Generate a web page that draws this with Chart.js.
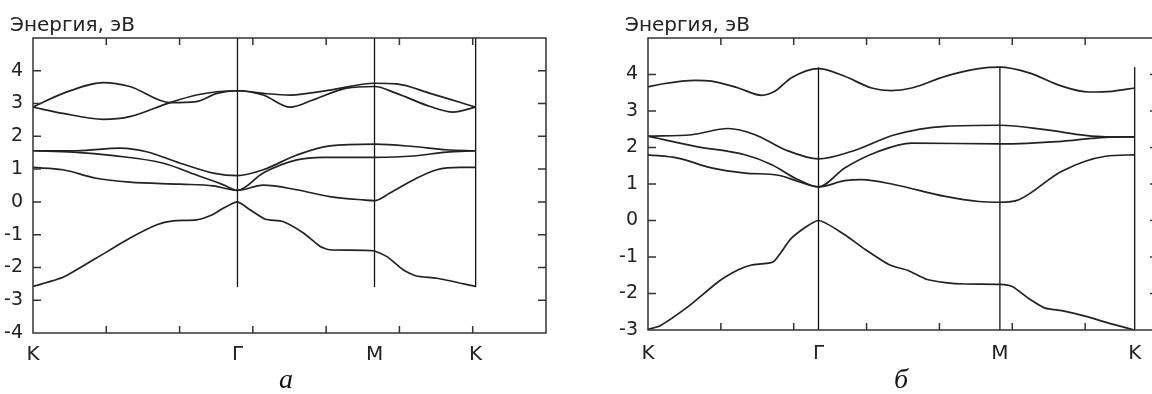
<!DOCTYPE html>
<html>
<head>
<meta charset="utf-8">
<script src="https://cdn.jsdelivr.net/npm/chart.js@4.4.0/dist/chart.umd.min.js"></script>
<style>
  html, body { margin: 0; padding: 0; background: #fff; overflow: hidden; width: 1152px; height: 394px; }
  .panel { position: absolute; top: 0; height: 394px; }
  .cap { position: absolute; font: italic 28px "Liberation Serif", serif; color: #111; }
</style>
</head>
<body>
<div class="panel" style="left:0;width:576px"><canvas id="chartA"></canvas></div>
<div class="panel" style="left:613px;width:560px"><canvas id="chartB"></canvas></div>
<div class="cap" style="left:279px;top:363px">а</div>
<div class="cap" style="left:894px;top:363px">б</div>
<script>
// panel а — high symmetry points, axis ticks
const symA = [0, 2.79, 4.66, 6.04];
const symNames = ['K', 'Γ', 'M', 'K'];
const yLabelsA = [-4, -3, -2, -1, 0, 1, 2, 3, 4];
const vlineA = [-2.6, 5];

// panel а bands [k, E]
const aBand1 = [[0,-2.58],[0.41,-2.30],[0.86,-1.72],[1.32,-1.11],[1.69,-0.70],[1.91,-0.58],[2.23,-0.55],[2.44,-0.40],[2.60,-0.19],[2.79,0.0],[2.96,-0.24],[3.17,-0.53],[3.41,-0.60],[3.69,-0.95],[3.92,-1.36],[4.05,-1.46],[4.64,-1.49],[4.83,-1.67],[5.05,-2.07],[5.23,-2.26],[5.51,-2.33],[6.04,-2.58]];
const aBand2 = [[0,1.05],[0.41,0.98],[0.86,0.72],[1.32,0.60],[2.01,0.54],[2.46,0.49],[2.79,0.35],[3.14,0.51],[3.60,0.37],[4.05,0.16],[4.51,0.06],[4.66,0.04],[4.87,0.27],[5.19,0.67],[5.51,0.98],[5.83,1.05],[6.04,1.05]];
const aBand3 = [[0,1.56],[0.55,1.52],[1.10,1.41],[1.78,1.18],[2.23,0.82],[2.60,0.52],[2.79,0.35],[3.14,0.88],[3.60,1.28],[3.96,1.36],[4.66,1.36],[5.19,1.40],[5.64,1.52],[6.04,1.56]];
const aBand4 = [[0,1.56],[0.60,1.56],[1.19,1.64],[1.55,1.53],[2.01,1.18],[2.46,0.88],[2.79,0.80],[3.14,0.98],[3.60,1.43],[4.05,1.71],[4.66,1.76],[5.19,1.69],[5.64,1.59],[6.04,1.56]];
const aBand5 = [[0,2.89],[0.41,3.31],[0.96,3.64],[1.32,3.52],[1.87,3.03],[2.23,3.06],[2.51,3.31],[2.79,3.39],[3.14,3.26],[3.51,2.89],[3.82,3.11],[4.28,3.47],[4.66,3.52],[4.96,3.31],[5.42,2.91],[5.73,2.74],[6.04,2.89]];
const aBand6 = [[0,2.89],[0.41,2.70],[0.96,2.52],[1.32,2.60],[1.87,3.03],[2.23,3.26],[2.51,3.36],[2.79,3.39],[3.14,3.31],[3.51,3.26],[4.05,3.41],[4.66,3.62],[4.96,3.60],[5.42,3.31],[6.04,2.89]];

// panel б
const symB = [0, 2.34, 4.83, 6.68];
const yLabelsB = [-3, -2, -1, 0, 1, 2, 3, 4];
const vlineB = [-3, 4.2];

const bBand1 = [[0,-2.98],[0.16,-2.89],[0.55,-2.36],[0.97,-1.67],[1.24,-1.35],[1.42,-1.22],[1.72,-1.13],[1.97,-0.48],[2.34,0],[2.70,-0.39],[2.98,-0.79],[3.32,-1.22],[3.57,-1.37],[3.82,-1.61],[4.08,-1.70],[4.35,-1.74],[4.83,-1.75],[5.00,-1.81],[5.22,-2.13],[5.45,-2.40],[5.68,-2.47],[6.00,-2.62],[6.37,-2.84],[6.68,-3.0]];
const bBand2 = [[0,1.80],[0.41,1.71],[0.87,1.44],[1.33,1.30],[1.79,1.24],[2.06,1.07],[2.34,0.92],[2.70,1.09],[2.93,1.12],[3.39,0.98],[4.08,0.66],[4.54,0.52],[4.83,0.50],[5.09,0.57],[5.68,1.35],[6.28,1.76],[6.68,1.80]];
const bBand3 = [[0,2.31],[0.65,2.03],[1.33,1.80],[1.70,1.53],[2.02,1.16],[2.34,0.92],[2.70,1.44],[3.16,1.89],[3.62,2.12],[4.83,2.10],[5.68,2.17],[6.28,2.28],[6.68,2.29]];
const bBand4 = [[0,2.31],[0.60,2.35],[1.10,2.52],[1.47,2.35],[1.88,1.94],[2.34,1.69],[2.79,1.89],[3.39,2.35],[4.08,2.58],[4.83,2.61],[5.45,2.49],[6.00,2.33],[6.28,2.29],[6.68,2.29]];
const bBand5 = [[0,3.66],[0.19,3.74],[0.65,3.84],[0.87,3.82],[1.24,3.63],[1.56,3.43],[1.74,3.54],[1.97,3.91],[2.34,4.16],[2.70,3.95],[3.07,3.63],[3.34,3.56],[3.62,3.63],[4.08,3.95],[4.54,4.16],[4.83,4.20],[5.22,4.05],[5.68,3.68],[6.05,3.52],[6.37,3.54],[6.68,3.63]];

const xTicks = [1, 2, 3, 4, 5, 6];

const FONT = { family: 'DejaVu Sans', size: 19 };
const XFONT = { family: 'DejaVu Sans', size: 20 };
const INK = '#222';

// gnuplot-style frame with inward ticks, plus the axis caption top-left
const framePlugin = {
  id: 'frame',
  afterDatasetsDraw(chart, args, opts) {
    const { ctx, chartArea: a, scales: { x, y } } = chart;
    ctx.save();
    ctx.strokeStyle = '#333';
    ctx.lineWidth = 1.5;
    ctx.strokeRect(a.left, a.top, a.right - a.left, a.bottom - a.top);
    ctx.beginPath();
    opts.xTicks.forEach(v => {
      const px = x.getPixelForValue(v);
      ctx.moveTo(px, a.bottom); ctx.lineTo(px, a.bottom - 7);
      ctx.moveTo(px, a.top); ctx.lineTo(px, a.top + 7);
    });
    opts.yTicks.forEach(v => {
      const py = y.getPixelForValue(v);
      ctx.moveTo(a.left, py); ctx.lineTo(a.left + 8, py);
      ctx.moveTo(a.right, py); ctx.lineTo(a.right - 8, py);
    });
    ctx.stroke();

    ctx.fillStyle = INK;
    ctx.font = '20px "DejaVu Sans"';
    ctx.textBaseline = 'middle';
    ctx.textAlign = 'left';
    ctx.fillText(opts.title, a.left - opts.titleDx, 26);
    ctx.restore();
  }
};

function toXY(arr) {
  return arr.map(p => ({ x: p[0], y: p[1] }));
}

function makeChart(id, bands, sym, vline, yMin, yMax, yLabels, geo) {
  const datasets = bands.map((b, i) => ({
    data: toXY(b),
    borderColor: INK,
    borderWidth: 1.7,
    pointRadius: 0,
    tension: i === 0 ? 0.2 : 0,
    cubicInterpolationMode: i === 0 ? 'default' : 'monotone'
  }));
  sym.slice(1).forEach(k => {
    datasets.push({
      data: [{ x: k, y: vline[0] }, { x: k, y: vline[1] }],
      borderColor: '#111',
      borderWidth: 1.3,
      pointRadius: 0,
      tension: 0
    });
  });

  return new Chart(document.getElementById(id), {
    type: 'line',
    data: { datasets },
    options: {
      responsive: true,
      maintainAspectRatio: false,
      animation: false,
      layout: { padding: { left: 0, right: geo.right, top: 38, bottom: geo.bottom } },
      plugins: {
        legend: { display: false },
        tooltip: { enabled: false },
        frame: { xTicks: xTicks, yTicks: yLabels.slice(1), title: 'Энергия, эВ', titleDx: 23 }
      },
      scales: {
        x: {
          type: 'linear',
          min: 0,
          max: 7,
          afterBuildTicks: s => { s.ticks = sym.map(v => ({ value: v })); },
          afterFit: s => { s.height = 40; },
          ticks: {
            autoSkip: false,
            maxRotation: 0,
            padding: geo.xPad,
            color: INK,
            font: XFONT,
            callback: (v, i) => symNames[i]
          },
          grid: { display: false, drawTicks: false },
          border: { display: false }
        },
        y: {
          type: 'linear',
          min: yMin,
          max: yMax,
          afterBuildTicks: s => { s.ticks = yLabels.map(v => ({ value: v })); },
          afterFit: s => { s.width = geo.yWidth; },
          ticks: { padding: 10, color: INK, font: FONT },
          grid: { display: false, drawTicks: false },
          border: { display: false }
        }
      }
    },
    plugins: [framePlugin]
  });
}

makeChart('chartA', [aBand1, aBand2, aBand3, aBand4, aBand5, aBand6], symA, vlineA, -4, 5, yLabelsA,
  { right: 30, bottom: 21, yWidth: 33, xPad: 10 });
makeChart('chartB', [bBand1, bBand2, bBand3, bBand4, bBand5], symB, vlineB, -3, 5, yLabelsB,
  { right: 15, bottom: 24, yWidth: 35, xPad: 12 });
</script>
</body>
</html>
